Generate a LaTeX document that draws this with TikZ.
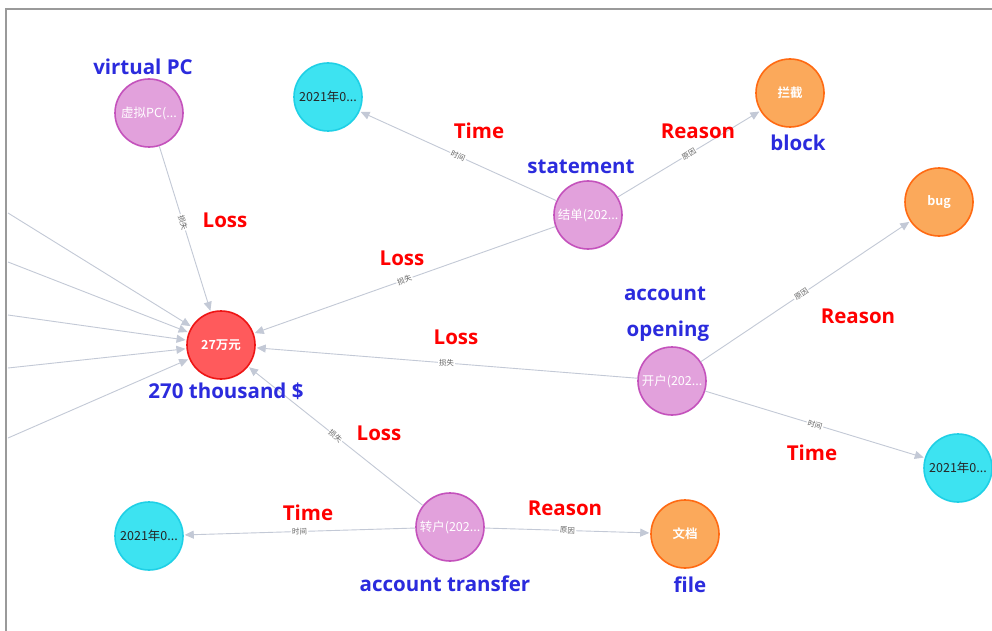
\documentclass[tikz,border=0pt]{standalone}
\usepackage{fontspec}
\setmainfont{Open Sans}
\newfontfamily\cjk{Noto Sans CJK SC}[BoldFont={Noto Sans CJK SC Bold}]
\usetikzlibrary{arrows.meta}

\definecolor{evfill}{HTML}{E2A1DC}
\definecolor{evline}{HTML}{C452BC}
\definecolor{dtfill}{HTML}{3DE3F1}
\definecolor{dtline}{HTML}{1FD0E6}
\definecolor{rsfill}{HTML}{FBA95B}
\definecolor{rsline}{HTML}{FF6A12}
\definecolor{lsfill}{HTML}{FF5A5C}
\definecolor{lsline}{HTML}{EE1515}
\definecolor{edgec}{HTML}{C3C9D6}
\definecolor{noteblue}{HTML}{2B2BDD}
\definecolor{notered}{HTML}{FF0000}
\definecolor{framec}{HTML}{9A9A9A}

\tikzset{
  ball/.style={circle, minimum size=68pt, inner sep=0pt, line width=1.6pt,
    font=\cjk\fontsize{12.5}{14}\selectfont, text=white},
  ev/.style={ball, fill=evfill, draw=evline},
  dt/.style={ball, fill=dtfill, draw=dtline, text=black!85},
  rs/.style={ball, fill=rsfill, draw=rsline, font=\cjk\bfseries\fontsize{12.5}{14}\selectfont},
  ls/.style={ball, fill=lsfill, draw=lsline, font=\cjk\bfseries\fontsize{12.5}{14}\selectfont},
  rel/.style={draw=edgec, line width=0.9pt,
    -{Triangle[length=9pt,width=8pt]}, shorten >=1pt},
  rlab/.style={sloped, fill=white, inner sep=1pt,
    font=\cjk\fontsize{7.5}{8}\selectfont, text=black!60},
  noteb/.style={font=\bfseries\fontsize{20.5}{24}\selectfont, text=noteblue, inner sep=0pt},
  noter/.style={font=\bfseries\fontsize{20.5}{24}\selectfont, text=notered, inner sep=0pt},
}

\begin{document}
\begin{tikzpicture}[x=1pt,y=-1pt]
\useasboundingbox (0,0) rectangle (992,631);
\fill[white] (0,0) rectangle (992,631);
% panel frame
\draw[framec, line width=2pt] (6,631) -- (6,9) -- (992,9);

% entities
\node[ls] (loss)  at (221,345) {27万元};
\node[ev] (vpc)   at (149,113) {虚拟PC(...};
\node[ev] (stmt)  at (588,215) {结单(202...};
\node[ev] (open)  at (672,381) {开户(202...};
\node[ev] (trans) at (450,527) {转户(202...};
\node[dt] (d1)    at (328,97)  {2021年0...};
\node[dt] (d2)    at (958,468) {2021年0...};
\node[dt] (d3)    at (149,536) {2021年0...};
\node[rs] (block) at (790,93)  {拦截};
\node[rs] (bug)   at (939,202) {bug};
\node[rs] (doc)   at (685,534) {文档};

% edges entering from outside the panel
\coordinate (l1) at (8,213);
\coordinate (l2) at (8,262);
\coordinate (l3) at (8,315);
\coordinate (l4) at (8,368);
\coordinate (l5) at (8,438);
\foreach \c in {l1,l2,l3,l4,l5} \draw[rel] (\c) -- (loss);

% relations
\draw[rel] (vpc)   -- node[rlab, pos=0.46] {损失} (loss);
\draw[rel] (stmt)  -- node[rlab] {时间} (d1);
\draw[rel] (stmt)  -- node[rlab] {原因} (block);
\draw[rel] (stmt)  -- node[rlab, pos=0.5] {损失} (loss);
\draw[rel] (open)  -- node[rlab, pos=0.48] {原因} (bug);
\draw[rel] (open)  -- node[rlab] {损失} (loss);
\draw[rel] (open)  -- node[rlab, pos=0.5] {时间} (d2);
\draw[rel] (trans) -- node[rlab, pos=0.5] {损失} (loss);
\draw[rel] (trans) -- node[rlab, pos=0.5] {时间} (d3);
\draw[rel] (trans) -- node[rlab, pos=0.5] {原因} (doc);

% English annotations
\node[noteb] (tvpc)   at (143,67)  {virtual PC};
\node[noteb] (tstmt)  at (581,167) {statement};
\node[noteb] (tblock) at (798,143) {block};
\node[noteb] (topen1) at (665,294) {account};
\node[noteb] (topen2) at (668,331) {opening};
\node[noteb] (tloss)  at (226,391) {270 thousand \$};
\node[noteb] (ttrans) at (445,584) {account transfer};
\node[noteb] (tdoc)   at (690,585) {file};

\node[noter] (r1)  at (225,220) {Loss};
\node[noter] (r2)  at (479,131) {Time};
\node[noter] (r3)  at (698,131) {Reason};
\node[noter] (r4)  at (402,258) {Loss};
\node[noter] (r5)  at (858,316) {Reason};
\node[noter] (r6)  at (456,337) {Loss};
\node[noter] (r7)  at (379,433) {Loss};
\node[noter] (r8)  at (812,453) {Time};
\node[noter] (r9)  at (308,513) {Time};
\node[noter] (r10) at (565,508) {Reason};
\end{tikzpicture}
\end{document}
